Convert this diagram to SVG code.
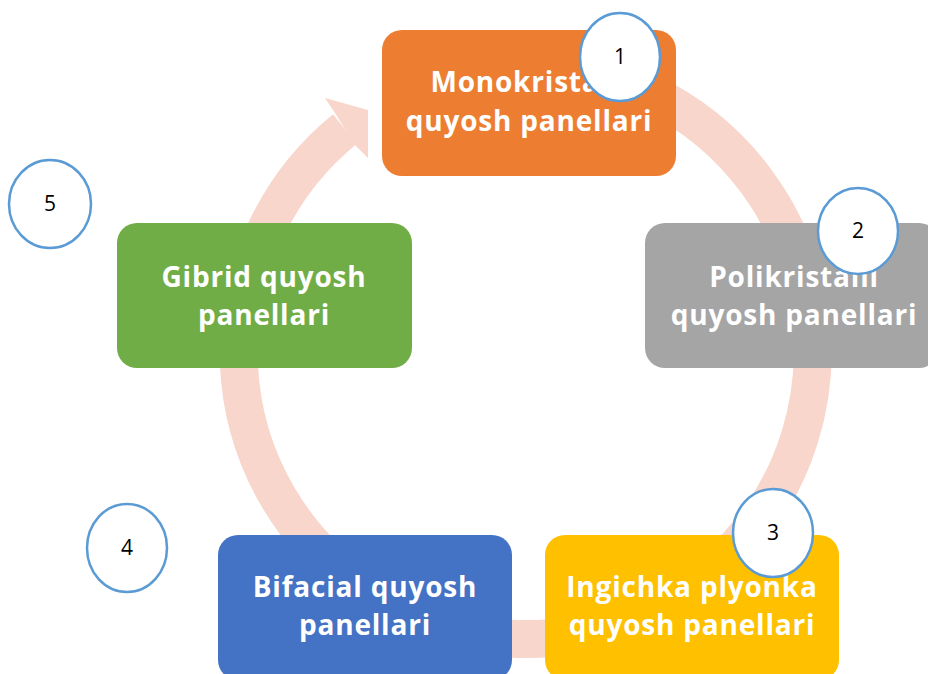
<svg xmlns="http://www.w3.org/2000/svg" width="928" height="674" viewBox="0 0 928 674">
<style>
.box{stroke:none}
.lbl{font-family:"Open Sans","Noto Sans","Liberation Sans",sans-serif;font-weight:700;font-size:28px;letter-spacing:0.8px;fill:#fff;text-anchor:middle}
.num{fill:#fff;stroke:#5B9BD5;stroke-width:2.5}
.numt{font-family:"Open Sans","Liberation Sans",sans-serif;font-size:21px;fill:#000;text-anchor:middle}
.ring{fill:none;stroke:#F8D6CC;stroke-width:38}
</style>
<rect width="928" height="674" fill="#fff"/>
<g id="connectors">
<path class="ring" d="M 528 65 A 287 287 0 1 1 345 129"/>
<polygon points="325,98 368,110 368,158 355,145 335,113" fill="#F8D6CC"/>
</g>
<g id="node1">
<rect class="box" x="382" y="30" width="294" height="146" rx="20" fill="#ED7D31"/>
<text class="lbl" x="529" y="92">Monokristalli</text>
<text class="lbl" x="529" y="131">quyosh panellari</text>
</g>
<g id="node2">
<rect class="box" x="645" y="223" width="294" height="145" rx="20" fill="#A5A5A5"/>
<text class="lbl" x="794" y="287">Polikristalli</text>
<text class="lbl" x="794" y="325">quyosh panellari</text>
</g>
<g id="node3">
<rect class="box" x="545" y="535" width="294" height="145" rx="20" fill="#FFC000"/>
<text class="lbl" x="692" y="597">Ingichka plyonka</text>
<text class="lbl" x="692" y="635">quyosh panellari</text>
</g>
<g id="node4">
<rect class="box" x="218" y="535" width="294" height="145" rx="20" fill="#4472C4"/>
<text class="lbl" x="365" y="597">Bifacial quyosh</text>
<text class="lbl" x="365" y="635">panellari</text>
</g>
<g id="node5">
<rect class="box" x="117" y="223" width="295" height="145" rx="20" fill="#70AD47"/>
<text class="lbl" x="264" y="287">Gibrid quyosh</text>
<text class="lbl" x="264" y="325">panellari</text>
</g>
<g id="badge1"><ellipse class="num" cx="620" cy="57" rx="40" ry="44"/><text class="numt" x="620" y="64">1</text></g>
<g id="badge2"><ellipse class="num" cx="858" cy="231" rx="40" ry="43"/><text class="numt" x="858" y="238">2</text></g>
<g id="badge3"><ellipse class="num" cx="773" cy="533" rx="40" ry="44"/><text class="numt" x="773" y="540">3</text></g>
<g id="badge4"><ellipse class="num" cx="127" cy="548" rx="40" ry="44"/><text class="numt" x="127" y="555">4</text></g>
<g id="badge5"><ellipse class="num" cx="50" cy="204" rx="41" ry="44"/><text class="numt" x="50" y="211">5</text></g>
</svg>
